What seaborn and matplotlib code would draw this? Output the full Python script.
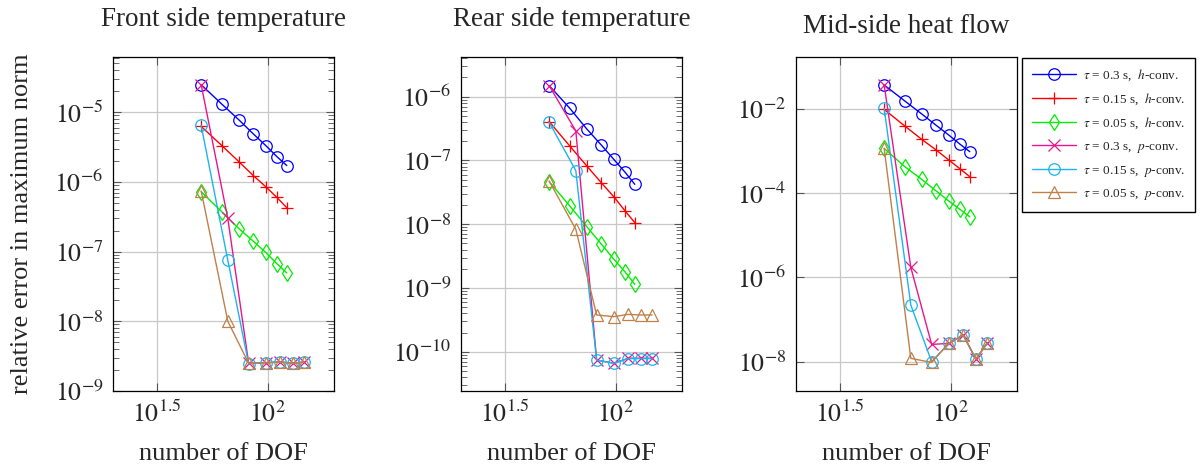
import matplotlib
matplotlib.use('Agg')
import matplotlib.pyplot as plt
from matplotlib.ticker import FixedLocator, FixedFormatter, LogLocator, NullLocator
import seaborn as sns

# degrees of freedom for h- and p-refinement
h_dof = [50, 62, 74, 86, 98, 110, 122]
p_dof = [50, 66, 82, 98, 114, 130, 146]

titles = ['Front side temperature', 'Rear side temperature', 'Mid-side heat flow']
labels = [r'$\tau$ = 0.3 s,  $h$-conv.', r'$\tau$ = 0.15 s,  $h$-conv.', r'$\tau$ = 0.05 s,  $h$-conv.',
          r'$\tau$ = 0.3 s,  $p$-conv.', r'$\tau$ = 0.15 s,  $p$-conv.', r'$\tau$ = 0.05 s,  $p$-conv.']
colors = ['#0000ff', '#ff0000', '#00ee00', '#e8168c', '#1cb4f0', '#c0804a']
markers = ['o', '+', 'd', 'x', 'o', '^']

# front side temperature
front_h03 = [2.47e-5, 1.30e-5, 7.76e-6, 4.88e-6, 3.31e-6, 2.30e-6, 1.71e-6]
front_h015 = [6.22e-6, 3.31e-6, 1.95e-6, 1.23e-6, 8.5e-7, 5.98e-7, 4.25e-7]
front_h005 = [7.22e-7, 3.72e-7, 2.14e-7, 1.41e-7, 9.7e-8, 6.7e-8, 4.93e-8]
front_p03 = [2.47e-5, 2.98e-7, 2.50e-9, 2.55e-9, 2.6e-9, 2.5e-9, 2.6e-9]
front_p015 = [6.43e-6, 7.5e-8, 2.45e-9, 2.55e-9, 2.6e-9, 2.5e-9, 2.6e-9]
front_p005 = [7.4e-7, 1.0e-8, 2.5e-9, 2.55e-9, 2.6e-9, 2.5e-9, 2.6e-9]

# rear side temperature
rear_h03 = [1.49e-6, 6.56e-7, 3.11e-7, 1.75e-7, 1.04e-7, 6.59e-8, 4.22e-8]
rear_h015 = [4.06e-7, 1.68e-7, 8.18e-8, 4.48e-8, 2.70e-8, 1.63e-8, 1.06e-8]
rear_h005 = [4.65e-8, 1.93e-8, 9.14e-9, 4.89e-9, 2.84e-9, 1.80e-9, 1.14e-9]
rear_p03 = [1.49e-6, 2.9e-7, 7.4e-11, 6.6e-11, 7.9e-11, 7.9e-11, 7.9e-11]
rear_p015 = [3.96e-7, 6.92e-8, 7.4e-11, 6.6e-11, 7.8e-11, 7.8e-11, 7.8e-11]
rear_p005 = [4.76e-8, 8.3e-9, 3.77e-10, 3.55e-10, 3.85e-10, 3.77e-10, 3.77e-10]

# mid-side heat flow
mid_h03 = [3.72e-2, 1.55e-2, 7.6e-3, 4.09e-3, 2.41e-3, 1.47e-3, 9.7e-4]
mid_h015 = [9.8e-3, 3.94e-3, 1.90e-3, 1.06e-3, 6.15e-4, 3.83e-4, 2.47e-4]
mid_h005 = [1.16e-3, 4.27e-4, 2.13e-4, 1.13e-4, 6.53e-5, 4.14e-5, 2.77e-5]
mid_p03 = [3.72e-2, 1.73e-6, 2.57e-8, 2.72e-8, 4.28e-8, 1.15e-8, 2.72e-8]
mid_p015 = [1.04e-2, 2.21e-7, 1.0e-8, 2.72e-8, 4.28e-8, 1.15e-8, 2.72e-8]
mid_p005 = [1.16e-3, 1.2e-8, 9.6e-9, 2.72e-8, 4.28e-8, 1.15e-8, 2.72e-8]

panels = [
    [front_h03, front_h015, front_h005, front_p03, front_p015, front_p005],
    [rear_h03, rear_h015, rear_h005, rear_p03, rear_p015, rear_p005],
    [mid_h03, mid_h015, mid_h005, mid_p03, mid_p015, mid_p005],
]
y_ticks = [[1e-9, 1e-8, 1e-7, 1e-6, 1e-5],
           [1e-10, 1e-9, 1e-8, 1e-7, 1e-6],
           [1e-8, 1e-6, 1e-4, 1e-2]]
y_ticklabels = [[r'$10^{-9}$', r'$10^{-8}$', r'$10^{-7}$', r'$10^{-6}$', r'$10^{-5}$'],
                [r'$10^{-10}$', r'$10^{-9}$', r'$10^{-8}$', r'$10^{-7}$', r'$10^{-6}$'],
                [r'$10^{-8}$', r'$10^{-6}$', r'$10^{-4}$', r'$10^{-2}$']]
y_lims = [(1e-9, 10**-4.21), (10**-10.616, 10**-5.378), (10**-8.696, 10**-0.765)]
x_ticks = [10**1.5, 100]
x_ticklabels = [r'$10^{1.5}$', r'$10^{2}$']

sns.set_style('ticks')
plt.rcParams['font.family'] = ['Liberation Serif', 'DejaVu Serif']
plt.rcParams['mathtext.fontset'] = 'stix'

W, H = 1203, 469
fig = plt.figure(figsize=(W / 100, H / 100), dpi=100)
lefts = [113, 461, 796]
title_pads = [22, 22, 17]
axes = []
for i, left in enumerate(lefts):
    ax = fig.add_axes([left / W, 1 - 391 / H, 221 / W, 334 / H])
    axes.append(ax)
    for k, vals in enumerate(panels[i]):
        dof = h_dof if k < 3 else p_dof
        sns.lineplot(x=dof, y=vals, ax=ax, color=colors[k], marker=markers[k],
                     markersize=8.3, markerfacecolor='none', markeredgecolor=colors[k],
                     markeredgewidth=0.9, linewidth=1.0, label=labels[k], legend=False)
    ax.set_xscale('log')
    ax.set_yscale('log')
    ax.set_xlim(10**1.3, 10**2.3)
    ax.set_ylim(*y_lims[i])
    ax.xaxis.set_major_locator(FixedLocator(x_ticks))
    ax.xaxis.set_major_formatter(FixedFormatter(x_ticklabels))
    ax.xaxis.set_minor_locator(NullLocator())
    ax.yaxis.set_major_locator(FixedLocator(y_ticks[i]))
    ax.yaxis.set_major_formatter(FixedFormatter(y_ticklabels[i]))
    if i < 2:
        ax.yaxis.set_minor_locator(LogLocator(base=10, subs=range(2, 10), numticks=30))
    else:
        ax.yaxis.set_minor_locator(NullLocator())
    ax.grid(True, which='major', color='#c8c8c8', linewidth=0.9)
    ax.set_axisbelow(True)
    ax.tick_params(which='both', direction='in', top=True, right=True, labelsize=18.5, color='#555555')
    ax.tick_params(which='major', length=6, width=0.8, pad=7)
    ax.tick_params(which='minor', length=4, width=0.6)
    for s in ax.spines.values():
        s.set_linewidth(0.9)
        s.set_color('black')
    ax.set_title(titles[i], fontsize=19.5, pad=title_pads[i])
    ax.set_xlabel('number of DOF', fontsize=19)
    ax.xaxis.set_label_coords(0.5, -0.155)
    if ax.get_legend() is not None:
        ax.get_legend().remove()

axes[0].set_ylabel('relative error in maximum norm', fontsize=19)
axes[0].yaxis.set_label_coords(-0.36, 0.5)

handles, leg_labels = axes[0].get_legend_handles_labels()
fig.legend(handles, leg_labels, loc='upper left', bbox_to_anchor=(1022 / W, 1 - 58 / H),
           frameon=True, fancybox=False, edgecolor='black', framealpha=1,
           borderaxespad=0, fontsize=9.5, handlelength=3.4, labelspacing=0.65,
           borderpad=0.73, handletextpad=0.5)

fig.savefig('out.png', dpi=100)
